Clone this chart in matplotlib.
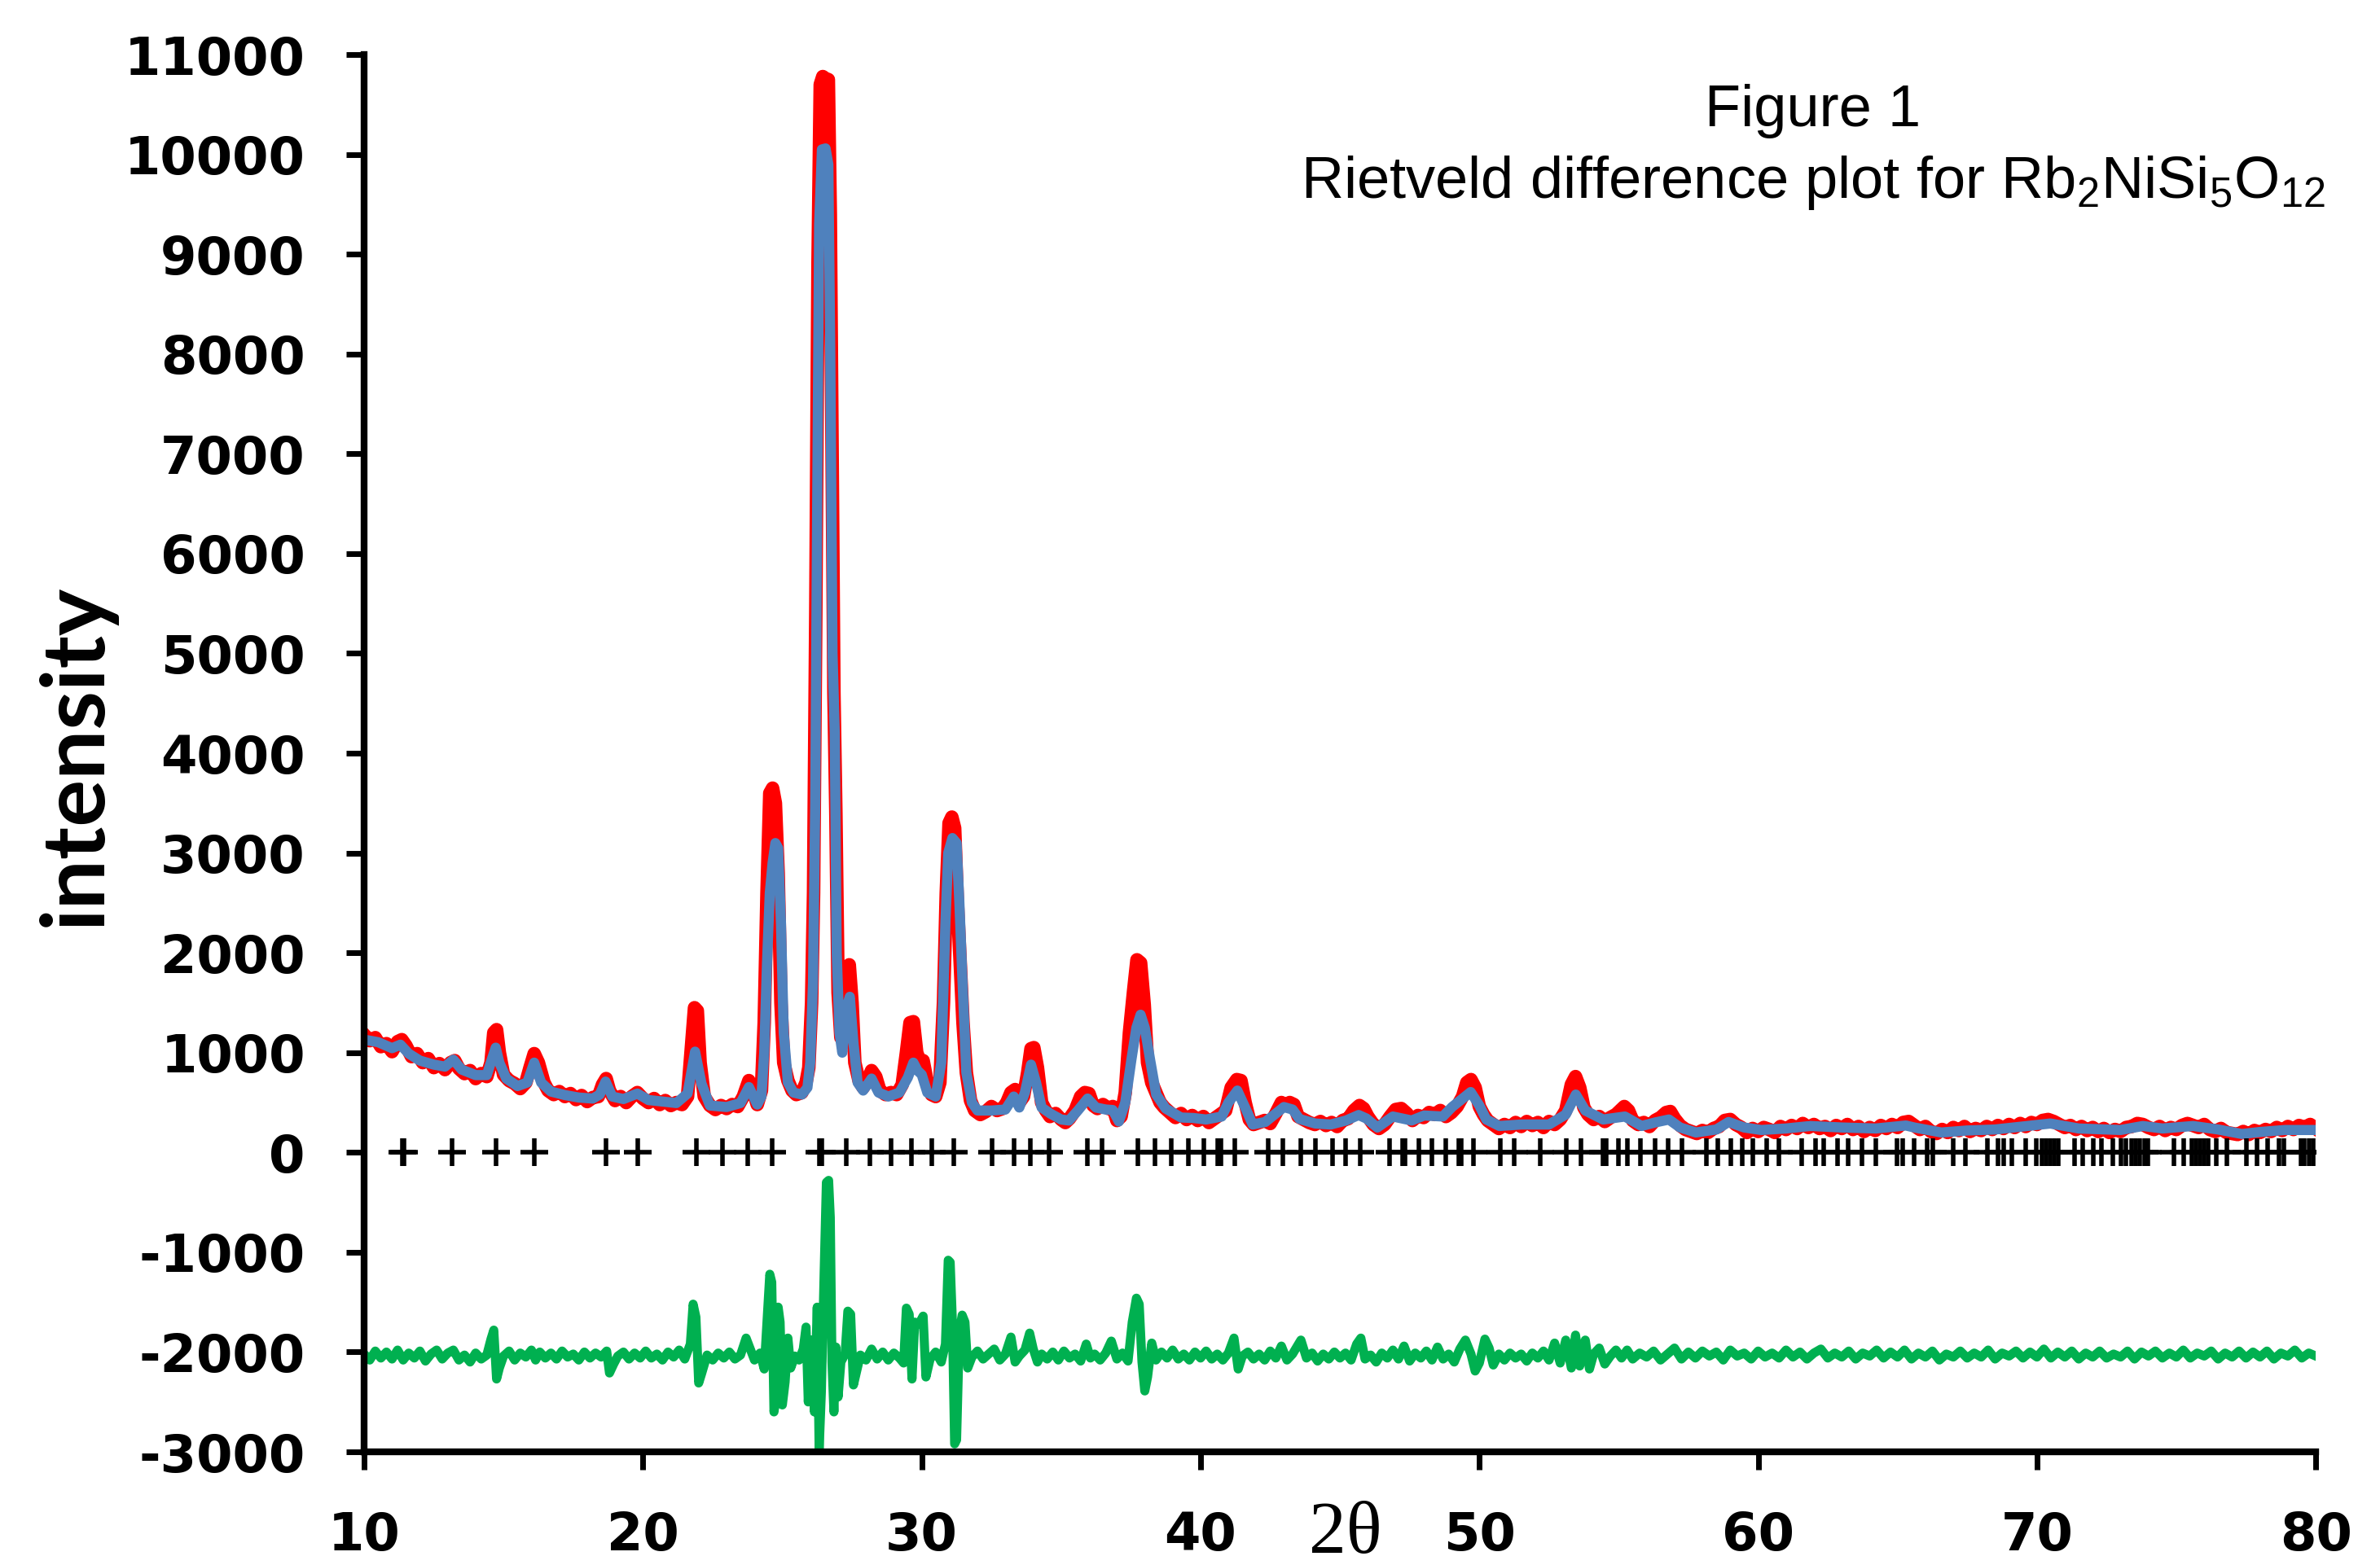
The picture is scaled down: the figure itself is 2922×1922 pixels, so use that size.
import matplotlib
matplotlib.use('Agg')
import matplotlib.pyplot as plt

# ============================================================================
# DONNEES
# ============================================================================

# observed pattern (red)
tth_obs = [
    10.0, 10.2, 10.4, 10.6, 10.8, 11.0, 11.2, 11.35, 11.5, 11.7,
    11.9, 12.1, 12.3, 12.5, 12.7, 12.9, 13.1, 13.25, 13.4, 13.6,
    13.8, 14.0, 14.2, 14.4, 14.55, 14.65, 14.75, 14.85, 15.0, 15.2,
    15.4, 15.6, 15.8, 15.95, 16.1, 16.25, 16.45, 16.6, 16.8, 17.0,
    17.2, 17.4, 17.6, 17.8, 18.0, 18.2, 18.4, 18.55, 18.68, 18.8,
    19.0, 19.2, 19.4, 19.6, 19.8, 20.0, 20.2, 20.4, 20.6, 20.8,
    21.0, 21.2, 21.4, 21.6, 21.75, 21.85, 21.95, 22.05, 22.2, 22.4,
    22.6, 22.8, 23.0, 23.2, 23.4, 23.6, 23.8, 23.95, 24.1, 24.25,
    24.35, 24.45, 24.55, 24.65, 24.75, 24.85, 24.95, 25.05, 25.2, 25.35,
    25.5, 25.7, 25.85, 25.95, 26.05, 26.12, 26.2, 26.28, 26.36, 26.45,
    26.55, 26.65, 26.72, 26.78, 26.85, 26.92, 27.0, 27.1, 27.2, 27.3,
    27.4, 27.5, 27.6, 27.75, 27.9, 28.05, 28.2, 28.35, 28.5, 28.7,
    28.9, 29.1, 29.3, 29.45, 29.58, 29.7, 29.82, 29.95, 30.05, 30.2,
    30.35, 30.5, 30.65, 30.78, 30.88, 30.98, 31.08, 31.18, 31.28, 31.38,
    31.48, 31.6, 31.75, 31.9, 32.1, 32.3, 32.5, 32.7, 32.9, 33.05,
    33.2, 33.35, 33.5, 33.65, 33.8, 33.92, 34.02, 34.15, 34.3, 34.45,
    34.6, 34.8, 35.0, 35.15, 35.3, 35.5, 35.7, 35.85, 36.0, 36.15,
    36.3, 36.5, 36.7, 36.85, 37.0, 37.15, 37.3, 37.45, 37.6, 37.72,
    37.85, 37.98, 38.1, 38.25, 38.4, 38.55, 38.7, 38.9, 39.1, 39.3,
    39.5, 39.7, 39.9, 40.1, 40.3, 40.5, 40.7, 40.9, 41.1, 41.3,
    41.45, 41.6, 41.75, 41.9, 42.1, 42.3, 42.5, 42.7, 42.9, 43.05,
    43.2, 43.35, 43.5, 43.7, 43.9, 44.1, 44.3, 44.5, 44.7, 44.9,
    45.1, 45.3, 45.5, 45.7, 45.85, 46.0, 46.2, 46.4, 46.6, 46.8,
    47.0, 47.2, 47.4, 47.6, 47.8, 48.0, 48.2, 48.4, 48.6, 48.8,
    49.0, 49.2, 49.4, 49.55, 49.7, 49.85, 50.0, 50.15, 50.3, 50.5,
    50.7, 50.9, 51.1, 51.3, 51.5, 51.7, 51.9, 52.1, 52.3, 52.5,
    52.7, 52.9, 53.1, 53.3, 53.45, 53.6, 53.75, 53.9, 54.1, 54.3,
    54.5, 54.7, 54.9, 55.05, 55.2, 55.35, 55.5, 55.7, 55.9, 56.1,
    56.3, 56.5, 56.7, 56.85, 57.0, 57.2, 57.4, 57.6, 57.8, 58.0,
    58.2, 58.4, 58.6, 58.8, 59.0, 59.2, 59.4, 59.6, 59.8, 60.0,
    60.2, 60.4, 60.6, 60.8, 61.0, 61.2, 61.4, 61.6, 61.8, 62.0,
    62.2, 62.4, 62.6, 62.8, 63.0, 63.2, 63.4, 63.6, 63.8, 64.0,
    64.2, 64.4, 64.6, 64.8, 65.0, 65.2, 65.4, 65.6, 65.8, 66.0,
    66.2, 66.4, 66.6, 66.8, 67.0, 67.2, 67.4, 67.6, 67.8, 68.0,
    68.2, 68.4, 68.6, 68.8, 69.0, 69.2, 69.4, 69.6, 69.8, 70.0,
    70.2, 70.4, 70.6, 70.8, 71.0, 71.2, 71.4, 71.6, 71.8, 72.0,
    72.2, 72.4, 72.6, 72.8, 73.0, 73.2, 73.4, 73.6, 73.8, 74.0,
    74.2, 74.4, 74.6, 74.8, 75.0, 75.2, 75.4, 75.6, 75.8, 76.0,
    76.2, 76.4, 76.6, 76.8, 77.0, 77.2, 77.4, 77.6, 77.8, 78.0,
    78.2, 78.4, 78.6, 78.8, 79.0, 79.2, 79.4, 79.6, 79.8, 80.0,
]
i_obs = [
    1180, 1120, 1150, 1060, 1090, 1010, 1110, 1130, 1070, 960,
    990, 900, 940, 850, 890, 830, 900, 920, 840, 790,
    820, 740, 790, 760, 900, 1200, 1230, 1000, 780, 720,
    690, 640, 700, 850, 990, 900, 700, 620, 580, 610,
    560, 590, 530, 570, 510, 550, 560, 680, 740, 620,
    520, 560, 500, 560, 600, 540, 500, 540, 480, 520,
    470, 500, 480, 560, 1100, 1450, 1420, 900, 560, 470,
    430, 470, 440, 480, 460, 560, 720, 620, 480, 620,
    1300, 2600, 3600, 3650, 3500, 2800, 1500, 900, 720, 620,
    580, 600, 700, 850, 1500, 2600, 5400, 8900, 10700, 10780,
    10760, 10750, 9400, 7200, 4600, 3400, 1600, 1150, 1300, 1700,
    1880, 1500, 900, 720, 650, 720, 820, 760, 620, 580,
    600, 580, 680, 1000, 1300, 1310, 1000, 900, 920, 700,
    580, 560, 700, 1500, 2600, 3300, 3360, 3250, 2500, 1900,
    1300, 800, 520, 420, 380, 410, 460, 420, 440, 500,
    600, 630, 500, 560, 800, 1040, 1050, 850, 500, 420,
    360, 390, 330, 300, 340, 420, 560, 600, 590, 470,
    440, 480, 440, 460, 320, 360, 600, 1200, 1620, 1930,
    1900, 1480, 900, 700, 600, 500, 450, 400, 350, 390,
    330, 370, 320, 360, 300, 340, 380, 420, 650, 730,
    720, 500, 330, 280, 300, 320, 290, 390, 500, 470,
    500, 480, 360, 330, 300, 280, 310, 270, 300, 260,
    320, 340, 420, 470, 440, 360, 280, 240, 280, 360,
    430, 440, 390, 320, 370, 350, 400, 380, 420, 360,
    400, 460, 560, 700, 730, 650, 460, 380, 320, 280,
    240, 280, 250, 300, 260, 310, 270, 300, 250, 310,
    280, 330, 420, 680, 760, 650, 450, 380, 330, 360,
    310, 350, 380, 420, 460, 420, 320, 280, 300, 260,
    320, 350, 400, 410, 340, 270, 230, 210, 190, 220,
    200, 240, 260, 320, 330, 280, 250, 200, 240, 210,
    250, 230, 200, 260, 230, 270, 240, 290, 250, 280,
    240, 260, 220, 270, 240, 280, 230, 260, 210, 250,
    220, 270, 240, 280, 250, 300, 310, 270, 230, 260,
    210, 190, 230, 200, 250, 220, 260, 210, 240, 220,
    260, 230, 270, 240, 280, 250, 290, 260, 300, 280,
    320, 330, 310, 280, 250, 270, 230, 260, 220, 250,
    210, 240, 200, 230, 210, 250, 260, 290, 280, 250,
    230, 260, 220, 250, 230, 270, 290, 270, 250, 280,
    230, 210, 240, 200, 190, 180, 210, 180, 220, 200,
    230, 210, 250, 220, 260, 230, 270, 250, 280, 240,
]

# calculated pattern (blue)
tth_calc = [
    10.0, 10.5, 11.0, 11.3, 11.6, 12.0, 12.5, 12.9, 13.2, 13.5,
    14.0, 14.4, 14.6, 14.72, 14.85, 15.1, 15.5, 15.85, 16.1, 16.35,
    16.7, 17.2, 17.7, 18.2, 18.45, 18.66, 18.9, 19.3, 19.8, 20.2,
    20.7, 21.2, 21.6, 21.87, 22.1, 22.4, 23.0, 23.5, 23.8, 24.1,
    24.25, 24.35, 24.45, 24.55, 24.65, 24.75, 24.85, 24.95, 25.05, 25.2,
    25.4, 25.7, 25.9, 26.0, 26.1, 26.18, 26.25, 26.32, 26.42, 26.55,
    26.65, 26.72, 26.8, 26.88, 26.95, 27.05, 27.15, 27.3, 27.42, 27.55,
    27.7, 27.9, 28.2, 28.45, 28.8, 29.2, 29.5, 29.7, 29.85, 30.0,
    30.2, 30.5, 30.7, 30.85, 30.95, 31.1, 31.25, 31.35, 31.45, 31.6,
    31.8, 32.0, 32.5, 33.0, 33.3, 33.5, 33.7, 33.92, 34.1, 34.3,
    34.61, 35.0, 35.28, 35.6, 35.95, 36.25, 36.6, 36.85, 37.07, 37.3,
    37.52, 37.7, 37.85, 38.0, 38.19, 38.41, 38.75, 39.3, 39.75, 40.2,
    40.76, 41.0, 41.32, 41.6, 41.87, 42.32, 42.99, 43.3, 43.55, 44.11,
    44.67, 45.22, 45.67, 45.95, 46.34, 46.9, 47.57, 48.02, 48.69, 49.02,
    49.69, 50.0, 50.25, 50.72, 51.51, 52.5, 53.1, 53.46, 53.8, 54.44,
    55.22, 55.82, 56.3, 56.8, 57.2, 57.77, 58.5, 58.94, 59.5, 60.11,
    61.0, 61.87, 63.0, 64.22, 65.3, 65.6, 66.57, 67.5, 68.5, 69.5,
    70.48, 71.5, 73.0, 73.8, 74.5, 75.6, 76.5, 77.35, 78.0, 78.9,
    80.0,
]
i_calc = [
    1130, 1105, 1045, 1080, 990, 920, 880, 860, 930, 830,
    775, 775, 950, 1050, 900, 740, 665, 700, 900, 700,
    610, 575, 550, 540, 580, 710, 560, 535, 590, 525,
    510, 495, 590, 1010, 690, 470, 455, 495, 655, 480,
    560, 1000, 1900, 2600, 2900, 3100, 3050, 2300, 1200, 700,
    600, 580, 650, 900, 1700, 3500, 6500, 9300, 10050, 10060,
    9900, 8000, 5000, 4200, 2000, 1200, 1000, 1450, 1560, 1100,
    700, 620, 740, 600, 560, 600, 750, 900, 820, 780,
    600, 560, 900, 2300, 3000, 3150, 3100, 2500, 1800, 800,
    500, 420, 420, 430, 560, 450, 600, 880, 700, 450,
    390, 330, 320, 420, 540, 450, 430, 425, 310, 500,
    930, 1250, 1380, 1250, 930, 580, 440, 350, 345, 330,
    360, 500, 620, 450, 280, 305, 455, 430, 335, 290,
    280, 320, 375, 340, 250, 360, 320, 370, 360, 455,
    605, 470, 330, 265, 280, 280, 380, 580, 420, 330,
    360, 265, 300, 330, 250, 200, 230, 305, 250, 225,
    240, 265, 250, 240, 270, 250, 200, 220, 230, 260,
    290, 240, 225, 265, 240, 265, 230, 185, 205, 225,
    225,
]

# difference curve (green, offset)
tth_diff = [
    10.0, 10.2, 10.4, 10.6, 10.8, 11.0, 11.2, 11.4, 11.6, 11.8,
    12.0, 12.2, 12.4, 12.6, 12.8, 13.0, 13.2, 13.4, 13.6, 13.8,
    14.0, 14.2, 14.4, 14.55, 14.65, 14.75, 14.85, 15.0, 15.2, 15.4,
    15.6, 15.8, 16.0, 16.15, 16.3, 16.5, 16.7, 16.9, 17.1, 17.3,
    17.5, 17.7, 17.9, 18.1, 18.3, 18.5, 18.7, 18.8, 18.95, 19.1,
    19.3, 19.5, 19.7, 19.9, 20.1, 20.3, 20.5, 20.7, 20.9, 21.1,
    21.3, 21.5, 21.7, 21.8, 21.9, 22.0, 22.1, 22.3, 22.5, 22.7,
    22.9, 23.1, 23.3, 23.5, 23.7, 23.85, 24.0, 24.2, 24.35, 24.45,
    24.55, 24.62, 24.7, 24.78, 24.85, 24.92, 25.0, 25.1, 25.2, 25.3,
    25.45, 25.6, 25.75, 25.85, 25.93, 26.05, 26.15, 26.25, 26.32, 26.4,
    26.5, 26.58, 26.66, 26.72, 26.78, 26.85, 26.92, 27.0, 27.1, 27.25,
    27.35, 27.45, 27.55, 27.65, 27.8, 28.0, 28.2, 28.4, 28.6, 28.8,
    29.0, 29.2, 29.35, 29.45, 29.55, 29.65, 29.75, 29.9, 30.05, 30.15,
    30.3, 30.5, 30.7, 30.85, 30.95, 31.02, 31.1, 31.18, 31.25, 31.35,
    31.45, 31.55, 31.65, 31.8, 32.0, 32.2, 32.4, 32.6, 32.8, 33.0,
    33.2, 33.35, 33.5, 33.7, 33.87, 34.0, 34.15, 34.3, 34.5, 34.7,
    34.9, 35.1, 35.3, 35.5, 35.7, 35.9, 36.05, 36.2, 36.4, 36.6,
    36.8, 37.0, 37.2, 37.4, 37.55, 37.7, 37.8, 37.9, 38.0, 38.1,
    38.25, 38.4, 38.6, 38.8, 39.0, 39.2, 39.4, 39.6, 39.8, 40.0,
    40.2, 40.4, 40.6, 40.8, 41.0, 41.2, 41.35, 41.5, 41.7, 41.9,
    42.1, 42.3, 42.5, 42.7, 42.9, 43.1, 43.3, 43.6, 43.8, 44.0,
    44.2, 44.4, 44.6, 44.8, 45.0, 45.2, 45.4, 45.6, 45.75, 45.9,
    46.1, 46.3, 46.5, 46.7, 46.9, 47.1, 47.3, 47.5, 47.7, 47.9,
    48.1, 48.3, 48.5, 48.7, 48.9, 49.1, 49.3, 49.5, 49.7, 49.85,
    50.0, 50.2, 50.35, 50.5, 50.7, 50.9, 51.1, 51.3, 51.5, 51.7,
    51.9, 52.1, 52.3, 52.5, 52.7, 52.9, 53.1, 53.3, 53.45, 53.6,
    53.8, 53.95, 54.1, 54.3, 54.5, 54.7, 54.9, 55.1, 55.3, 55.5,
    55.75, 56.0, 56.25, 56.5, 56.75, 57.0, 57.25, 57.5, 57.75, 58.0,
    58.25, 58.5, 58.75, 59.0, 59.25, 59.5, 59.75, 60.0, 60.25, 60.5,
    60.75, 61.0, 61.25, 61.5, 61.75, 62.0, 62.25, 62.5, 62.75, 63.0,
    63.25, 63.5, 63.75, 64.0, 64.25, 64.5, 64.75, 65.0, 65.25, 65.5,
    65.75, 66.0, 66.25, 66.5, 66.75, 67.0, 67.25, 67.5, 67.75, 68.0,
    68.25, 68.5, 68.75, 69.0, 69.25, 69.5, 69.75, 70.0, 70.25, 70.5,
    70.75, 71.0, 71.25, 71.5, 71.75, 72.0, 72.25, 72.5, 72.75, 73.0,
    73.25, 73.5, 73.75, 74.0, 74.25, 74.5, 74.75, 75.0, 75.25, 75.5,
    75.75, 76.0, 76.25, 76.5, 76.75, 77.0, 77.25, 77.5, 77.75, 78.0,
    78.25, 78.5, 78.75, 79.0, 79.25, 79.5, 79.75, 80.0,
]
i_diff = [
    -2020, -2080, -1990, -2060, -2000, -2070, -1980, -2080, -2010, -2060,
    -1990, -2090, -2020, -1980, -2070, -2010, -1980, -2080, -2030, -2100,
    -2010, -2070, -2030, -1870, -1780, -2270, -2160, -2040, -1990, -2080,
    -2010, -2050, -1980, -2080, -2000, -2060, -2010, -2070, -1990, -2050,
    -2020, -2080, -2000, -2060, -2010, -2050, -1990, -2210, -2120, -2040,
    -2000, -2070, -2010, -2060, -1990, -2060, -2020, -2080, -2000, -2050,
    -1980, -2070, -1920, -1520, -1650, -2310, -2220, -2030, -2080, -2010,
    -2060, -2000, -2070, -2030, -1860, -1970, -2080, -2010, -2170, -1700,
    -1220, -1300, -2600, -2450, -1550, -1700, -2530, -2300, -1860, -2160,
    -2040, -2080, -1970, -1750, -2500, -1880, -2600, -1550, -2980, -2400,
    -1200, -300, -280, -650, -2100, -2600, -1950, -2450, -2100, -2020,
    -1590, -1620, -2330, -2210, -2030, -2080, -1970, -2070, -2000, -2080,
    -2010, -2060, -2110, -1560, -1620, -2270, -1700, -1720, -1640, -2250,
    -2070, -2000, -2100, -1920, -1080, -1100, -1700, -2920, -2880, -1800,
    -1630, -1700, -2160, -2050, -1990, -2070, -2020, -1970, -2080, -2020,
    -1850, -2100, -2040, -1980, -1810, -1970, -2100, -2020, -2070, -2000,
    -2080, -1990, -2060, -2020, -2090, -1920, -2060, -2020, -2080, -2010,
    -1890, -2070, -2010, -2090, -1700, -1460, -1520, -2100, -2390, -2250,
    -1910, -2080, -2000, -2060, -1980, -2070, -2020, -2080, -2000, -2060,
    -1990, -2070, -2020, -2080, -2010, -1860, -2170, -2040, -2000, -2070,
    -2020, -2080, -1990, -2060, -1940, -2080, -2020, -1880, -2060, -2010,
    -2090, -2020, -2070, -2000, -2060, -2010, -2080, -1920, -1860, -2070,
    -2030, -2100, -2010, -2060, -1980, -2070, -1940, -2090, -2010, -2060,
    -1990, -2080, -1950, -2070, -2020, -2100, -1970, -1880, -2020, -2190,
    -2110, -1870, -1960, -2130, -2020, -2080, -2010, -2060, -2020, -2090,
    -2010, -2060, -1990, -2080, -1910, -2110, -1880, -2160, -1830, -2140,
    -1880, -2170, -2020, -1960, -2120, -2040, -1980, -2060, -1980, -2070,
    -2010, -2050, -1990, -2080, -2020, -1960, -2070, -2000, -2060, -1990,
    -2040, -2000, -2080, -1980, -2040, -2010, -2070, -1990, -2050, -2010,
    -2060, -1980, -2050, -2000, -2070, -2010, -1970, -2060, -2010, -2050,
    -1990, -2070, -2010, -2040, -1980, -2060, -2000, -2050, -1980, -2070,
    -2010, -2050, -1990, -2080, -2020, -2050, -1990, -2060, -2010, -2050,
    -1980, -2070, -2010, -2040, -1990, -2060, -2000, -2050, -1970, -2060,
    -2000, -2050, -1990, -2070, -2010, -2050, -1990, -2060, -2020, -2050,
    -1990, -2070, -2000, -2040, -1990, -2060, -2010, -2050, -1980, -2060,
    -2010, -2040, -1990, -2070, -2010, -2050, -1990, -2060, -2000, -2050,
    -1990, -2070, -2010, -2040, -1980, -2060, -2010, -2040,
]

# reflection positions (black +)
refl_pos = [
    11.37, 11.42, 13.16, 14.72, 16.11, 18.68, 19.80, 21.92, 22.85, 23.75,
    24.64, 26.33, 26.43, 27.28, 28.13, 28.89, 29.62, 30.36, 31.14, 32.53,
    33.31, 33.89, 34.58, 35.93, 36.47, 37.74, 38.36, 38.95, 39.56, 40.12,
    40.62, 40.72, 41.22, 42.42, 42.95, 43.59, 44.13, 44.72, 45.20, 45.73,
    46.77, 47.24, 47.34, 47.83, 48.30, 48.80, 49.25, 49.35, 49.80, 50.76,
    51.25, 52.19, 53.13, 53.65, 54.44, 54.55, 54.99, 55.32, 55.77, 56.29,
    56.78, 57.27, 58.15, 58.54, 59.03, 59.42, 59.81, 60.30, 60.73, 61.57,
    62.06, 62.35, 62.84, 63.23, 63.72, 64.21, 64.99, 65.19, 65.58, 66.07,
    66.26, 67.01, 67.44, 68.22, 68.61, 68.80, 69.10, 69.59, 69.98, 70.17,
    70.32, 70.47, 70.62, 70.76, 71.35, 71.64, 72.03, 72.32, 72.71, 73.01,
    73.20, 73.40, 73.55, 73.70, 73.85, 73.98, 74.92, 75.25, 75.55, 75.70,
    75.85, 76.00, 76.14, 76.43, 76.82, 77.50, 77.89, 78.28, 78.68, 78.87,
    79.46, 79.60, 79.75, 79.90,
]

x_ticks = [10, 20, 30, 40, 50, 60, 70, 80]
y_ticks = [-3000, -2000, -1000, 0, 1000, 2000, 3000, 4000, 5000,
           6000, 7000, 8000, 9000, 10000, 11000]

# ============================================================================
# FIGURE
# ============================================================================

plt.rcParams['axes.unicode_minus'] = False

fig = plt.figure(figsize=(29.22, 19.22), dpi=100)
ax = fig.add_axes([0.1530, 0.0723, 0.8200, 0.8928])

ax.plot(tth_obs, i_obs, color='#FF0000', lw=12)
ax.plot(tth_calc, i_calc, color='#4F81BD', lw=9)
ax.plot(tth_diff, i_diff, color='#00B050', lw=8)
ax.plot(refl_pos, [0] * len(refl_pos), ls='none', marker='+',
        ms=25, mew=4, color='black')

ax.set_xlim(10, 80)
ax.set_ylim(-3000, 11000)
ax.set_xticks(x_ticks)
ax.set_yticks(y_ticks)

for side in ['top', 'right']:
    ax.spines[side].set_visible(False)
for side in ['left', 'bottom']:
    ax.spines[side].set_linewidth(6)

ax.tick_params(axis='both', direction='out', length=16, width=5,
               pad=36, labelsize=46)
for lab in ax.get_xticklabels() + ax.get_yticklabels():
    lab.set_fontweight('bold')
    lab.set_family('DejaVu Sans')

# titre
fig.text(0.7618, 0.9194, 'Figure 1', ha='center', va='baseline',
         fontsize=52, family=['Liberation Sans', 'DejaVu Sans'])
fig.text(0.7618, 0.8736,
         r'Rietveld difference plot for Rb$\mathregular{_2}$NiSi$\mathregular{_5}$O$\mathregular{_{12}}$',
         ha='center', va='baseline', fontsize=52,
         family=['Liberation Sans', 'DejaVu Sans'])

# axes labels
fig.text(0.0318, 0.5177, 'intensity', rotation=90, ha='center', va='center',
         fontsize=78, fontweight='bold', family=['Lato', 'DejaVu Sans'])
fig.text(0.5654, 0.0078, '2\u03b8', ha='center', va='baseline',
         fontsize=66, family=['Liberation Serif', 'DejaVu Serif'])

fig.savefig('out.png', dpi=100)
